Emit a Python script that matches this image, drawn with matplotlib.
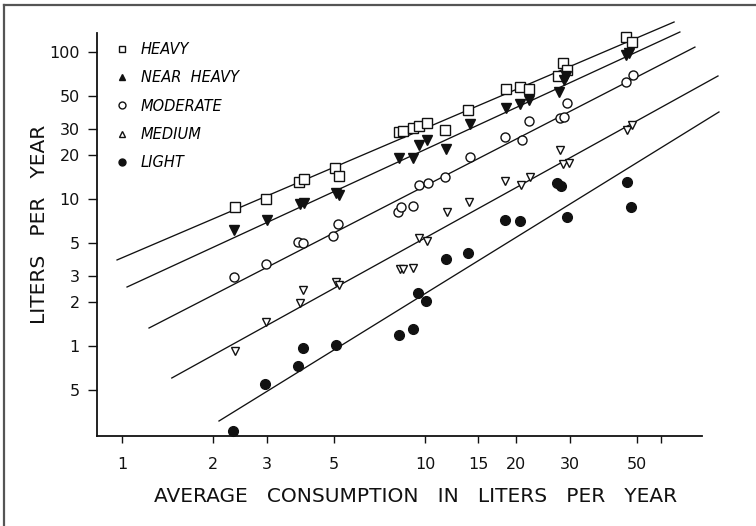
import matplotlib
matplotlib.use("Agg")
import matplotlib.pyplot as plt
import matplotlib.font_manager as fm
from matplotlib.lines import Line2D
from matplotlib.ticker import FixedLocator, FixedFormatter, NullLocator

# ---------------- data ----------------
series_names = ["HEAVY", "NEAR  HEAVY", "MODERATE", "MEDIUM", "LIGHT"]

heavy_x = [2.36, 2.99, 3.84, 3.99, 5.05, 5.20, 8.20, 8.46, 9.13, 9.55, 10.15, 11.6, 13.9,
           18.5, 20.6, 22.0, 27.5, 28.5, 29.4, 46.1, 48.2]
heavy_y = [8.8, 10.0, 13.1, 13.7, 16.3, 14.3, 28.6, 29.0, 30.4, 31.4, 32.9, 29.5, 40.3,
           56.0, 57.8, 56.0, 68.7, 84.2, 75.4, 126, 117]

near_x = [2.34, 3.01, 3.87, 3.99, 5.09, 5.20, 8.20, 9.13, 9.55, 10.15, 11.7, 14.1, 18.5,
          20.6, 22.0, 27.7, 28.8, 29.2, 46.1, 47.2]
near_y = [6.15, 7.2, 9.25, 9.4, 11.0, 10.6, 19.0, 19.0, 23.3, 25.2, 21.9, 32.4, 41.6,
          44.3, 47.1, 53.4, 64.5, 68.7, 95.4, 98.5]

mod_x = [2.34, 2.99, 3.81, 3.96, 4.97, 5.16, 8.14, 8.33, 9.13, 9.55, 10.2, 11.6, 14.1,
         18.4, 20.9, 22.0, 27.9, 28.8, 29.4, 46.1, 48.7]
mod_y = [2.95, 3.61, 5.1, 5.02, 5.6, 6.76, 8.16, 8.83, 8.97, 12.5, 12.8, 14.1, 19.3,
         26.4, 25.2, 33.9, 35.6, 36.1, 45.0, 62.5, 69.8]

med_x = [2.36, 2.99, 3.87, 3.96, 5.09, 5.20, 8.27, 8.46, 9.13, 9.55, 10.15, 11.8, 13.95,
         18.4, 20.7, 22.2, 27.9, 28.5, 29.8, 46.4, 48.2]
med_y = [0.925, 1.46, 1.96, 2.40, 2.73, 2.60, 3.34, 3.34, 3.40, 5.43, 5.18, 8.16, 9.55,
         13.3, 12.5, 14.1, 21.6, 17.3, 17.6, 29.5, 31.9]

light_x = [2.32, 2.96, 3.81, 3.96, 5.09, 8.20, 9.13, 9.48, 10.08, 11.7, 13.9, 18.4, 20.6,
           27.3, 28.2, 29.4, 46.4, 47.7]
light_y = [0.264, 0.551, 0.731, 0.969, 1.016, 1.19, 1.30, 2.29, 2.02, 3.91, 4.29, 7.2, 7.08,
           12.8, 12.3, 7.54, 13.1, 8.83]

# fitted regression lines: start / end points (x, y) for each series
line_x0 = [0.963, 1.039, 1.228, 1.46, 2.09]
line_y0 = [3.85, 2.52, 1.326, 0.606, 0.309]
line_x1 = [66.4, 69.4, 77.8, 92.7, 93.4]
line_y1 = [160, 136.8, 108, 68.7, 39.1]

x_ticks = [1, 2, 3, 5, 10, 15, 20, 30, 50, 60]
x_tick_labels = ["1", "2", "3", "5", "10", "15", "20", "30", "50", ""]
y_ticks = [0.5, 1, 2, 3, 5, 10, 20, 30, 50, 100]
y_tick_labels = ["5", "1", "2", "3", "5", "10", "20", "30", "50", "100"]

x_label = "AVERAGE   CONSUMPTION   IN   LITERS   PER   YEAR"
y_label = "LITERS   PER   YEAR"

# ---------------- fonts ----------------
_names = {f.name for f in fm.fontManager.ttflist}
if "Liberation Sans Narrow" in _names:
    FONT = ["Liberation Sans Narrow", "DejaVu Sans"]
    TICK_FS, LABEL_FS = 14.5, 16.5
else:
    FONT = ["DejaVu Sans"]
    TICK_FS, LABEL_FS = 11.5, 14.5

INK = "#111111"

fig = plt.figure(figsize=(7.56, 5.26), dpi=100)
W, H = 756, 526
ax = fig.add_axes([97 / W, 90 / H, 605 / W, 416 / H])
ax.set_xscale("log")
ax.set_yscale("log")
ax.set_xlim(0.827, 82.1)
ax.set_ylim(0.2443, 165.1)

xs = [heavy_x, near_x, mod_x, med_x, light_x]
ys = [heavy_y, near_y, mod_y, med_y, light_y]
data_markers = ["s", "v", "o", "v", "o"]
legend_markers = ["s", "^", "o", "^", "o"]
faces = ["white", INK, "white", "white", INK]
msizes = [6.5, 6.5, 6.5, 6.0, 7.0]

for i in range(5):
    ax.plot([line_x0[i], line_x1[i]], [line_y0[i], line_y1[i]], color=INK, lw=0.95,
            clip_on=False, zorder=2)
for i in range(5):
    ax.plot(xs[i], ys[i], linestyle="none", marker=data_markers[i], markersize=msizes[i],
            markerfacecolor=faces[i], markeredgecolor=INK, markeredgewidth=1.0,
            clip_on=False, zorder=3)

# legend
handles = [Line2D([], [], linestyle="none", marker=legend_markers[i], markersize=5,
                  markerfacecolor=faces[i], markeredgecolor=INK, markeredgewidth=1.0)
           for i in range(5)]
ax.legend(handles, series_names, loc="upper left",
          bbox_to_anchor=(116.5 / W, 1 - 42 / H), bbox_transform=fig.transFigure,
          frameon=False, borderpad=0, borderaxespad=0, handlelength=0.8,
          handletextpad=0.85, labelspacing=0.91,
          prop=dict(family="DejaVu Sans", style="italic", size=10.5))

# spines
for s in ["top", "right"]:
    ax.spines[s].set_visible(False)
ax.spines["left"].set_bounds(0.2443, 134.7)
for s in ["left", "bottom"]:
    ax.spines[s].set_linewidth(1.3)
    ax.spines[s].set_color(INK)

ax.xaxis.set_major_locator(FixedLocator(x_ticks))
ax.xaxis.set_major_formatter(FixedFormatter(x_tick_labels))
ax.yaxis.set_major_locator(FixedLocator(y_ticks))
ax.yaxis.set_major_formatter(FixedFormatter(y_tick_labels))
ax.xaxis.set_minor_locator(NullLocator())
ax.yaxis.set_minor_locator(NullLocator())
ax.tick_params(axis="x", direction="out", length=5, width=1.0, pad=10, colors=INK,
               labelsize=TICK_FS)
ax.tick_params(axis="y", direction="out", length=6.5, width=1.0, pad=6, colors=INK,
               labelsize=TICK_FS)
for lab in ax.get_xticklabels() + ax.get_yticklabels():
    lab.set_family(FONT)

fig.text(416 / W, 1 - 497 / H, x_label, ha="center", va="center", fontsize=LABEL_FS,
         family=FONT, color=INK)
fig.text(40 / W, 1 - 224 / H, y_label, ha="center", va="center", rotation=90,
         fontsize=LABEL_FS, family=FONT, color=INK)

# outer frame (left and top edges)
fig.add_artist(Line2D([4 / W, 4 / W], [0, 1 - 5 / H], transform=fig.transFigure,
                      color="#555555", lw=1.6))
fig.add_artist(Line2D([4 / W, 1], [1 - 5 / H, 1 - 5 / H], transform=fig.transFigure,
                      color="#555555", lw=1.6))

fig.savefig("out.png", dpi=100, facecolor="white")
